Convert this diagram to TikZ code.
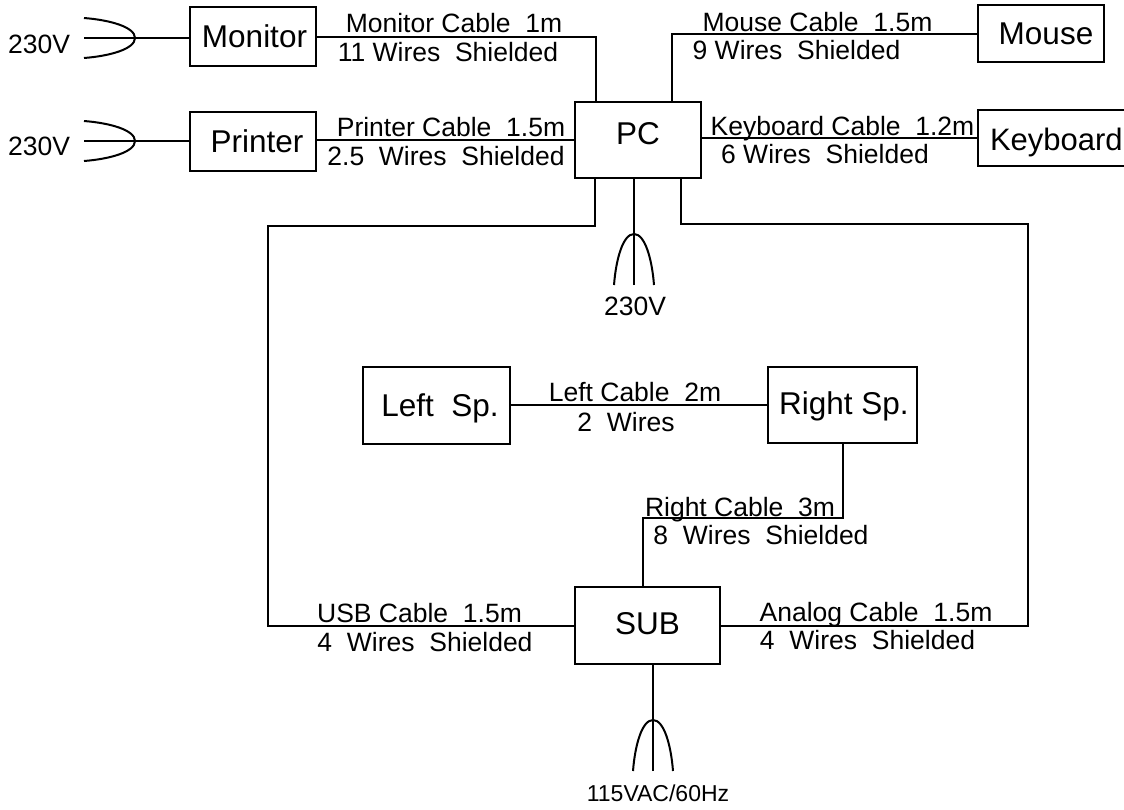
\documentclass[tikz,border=0pt]{standalone}
\usepackage{fontspec}
\setmainfont{Liberation Sans}
\usepackage{xcolor}
\usetikzlibrary{positioning,calc}
\tikzset{
  unit/.style={draw, line width=2pt, inner sep=0pt, outer sep=0pt,
               font=\fontsize{31.5}{36}\selectfont},
  wire/.style={line width=2pt},
  lbl/.style={font=\fontsize{26.5}{30}\selectfont, inner sep=0pt, outer sep=0pt,
              text height=19pt, text depth=0pt},
  plug/.pic={
    \draw[wire] (-51,-20) .. controls (-25,-18) and (0,-11) .. (0,0)
      .. controls (0,11) and (-25,18) .. (-51,20);
    \draw[wire] (-51,0) -- (0,0);
  },
}
\begin{document}
\begin{tikzpicture}[x=1pt,y=-1pt]
  \useasboundingbox (0,0) rectangle (1124,809);
  % left column
  \node[unit, minimum width=126pt, minimum height=59pt] at (253,36.5) (monitor)
    {\hspace*{3pt}Monitor};
  \node[unit, below=46pt of monitor, minimum width=126pt, minimum height=59pt] (printer)
    {\hspace*{8pt}Printer};
  % PC and right column
  \node[unit, right=259pt of printer, yshift=1.5pt, minimum width=126pt,
        minimum height=76pt, text depth=14pt] (pc) {PC};
  \node[unit, right=277pt of pc, yshift=106.5pt, minimum width=126pt,
        minimum height=57pt] (mouse) {\hspace*{10pt}Mouse};
  \node[unit, right=277pt of pc, yshift=2pt, inner xsep=12pt, minimum height=56pt,
        text height=31pt, font=\fontsize{31}{36}\selectfont] (keyboard) {Keyboard};
  % subwoofer and speakers
  \node[unit, below=409pt of pc, xshift=9.5pt, minimum width=145pt,
        minimum height=77pt, text depth=4pt] (sub) {SUB};
  \node[unit, above=144pt of sub, xshift=195pt, minimum width=149pt,
        minimum height=76pt, text height=25pt] (rightsp) {\hspace*{3pt}Right Sp.};
  \node[unit, left=258pt of rightsp, minimum width=147pt, minimum height=77pt,
        text height=29pt] (leftsp) {\hspace*{7pt}Left\ \ Sp.};
  % mains plugs
  \coordinate (montip) at (135,38);
  \coordinate (pritip) at (135,141);
  \coordinate (pctip) at (634,234);
  \coordinate (subtip) at (653,720);
  \pic at (montip) {plug};
  \pic at (pritip) {plug};
  \pic[rotate=90] at (pctip) {plug};
  \pic[rotate=90] at (subtip) {plug};
  \node[lbl] (monv) at (39,44) {230V};
  \node[lbl] (priv) at (39,146) {230V};
  \node[lbl] (pcv) at (635,306) {230V};
  \node[lbl, font=\fontsize{23}{26}\selectfont] (subv) at (658,792) {115VAC/60Hz};
  % wires
  \draw[wire] (monitor.west |- montip) -- (montip);
  \draw[wire] (printer.west |- pritip) -- (pritip);
  \draw[wire] (pc.south -| pctip) -- (pctip);
  \draw[wire] (sub.south -| subtip) -- (subtip);
  \draw[wire] (monitor.east) -| ($(pc.north west)+(21,0)$);
  \draw[wire] (mouse.west) -| ($(pc.north west)+(97,0)$);
  \draw[wire] (printer.east |- pc.west) -- (pc.west);
  \draw[wire] (pc.east |- keyboard.west) -- (keyboard.west);
  \draw[wire] ($(pc.south west)+(20,0)$) |- (268,226) |- (sub.west);
  \draw[wire] ($(pc.south west)+(106,0)$) |- (1028,224) |- (sub.east);
  \draw[wire] (leftsp.east) -- (rightsp.west);
  \draw[wire] (rightsp.south) |- (643,518) -- (643,587);
  % cable labels
  \node[lbl] (mona) at (454,23) {Monitor Cable\ \ 1m};
  \node[lbl] (monb) at (448,52) {11 Wires\ \ Shielded};
  \node[lbl] (moua) at (817.5,22) {Mouse Cable\ \ 1.5m};
  \node[lbl] (moub) at (796.5,50) {9 Wires\ \ Shielded};
  \node[lbl] (pria) at (451,127) {Printer Cable\ \ 1.5m};
  \node[lbl] (prib) at (446,156) {2.5\ \ Wires\ \ Shielded};
  \node[lbl] (keya) at (842.5,126) {Keyboard Cable\ \ 1.2m};
  \node[lbl] (keyb) at (825,154) {6 Wires\ \ Shielded};
  \node[lbl] (lefa) at (635,392) {Left Cable\ \ 2m};
  \node[lbl] (lefb) at (626,422) {2\ \ Wires};
  \node[lbl] (riga) at (740,507) {Right Cable\ \ 3m};
  \node[lbl] (rigb) at (761,535) {8\ \ Wires\ \ Shielded};
  \node[lbl] (usba) at (419.5,613) {USB Cable\ \ 1.5m};
  \node[lbl] (usbb) at (425,642) {4\ \ Wires\ \ Shielded};
  \node[lbl] (anaa) at (876,612) {Analog Cable\ \ 1.5m};
  \node[lbl] (anab) at (867.5,640) {4\ \ Wires\ \ Shielded};
\end{tikzpicture}
\end{document}
